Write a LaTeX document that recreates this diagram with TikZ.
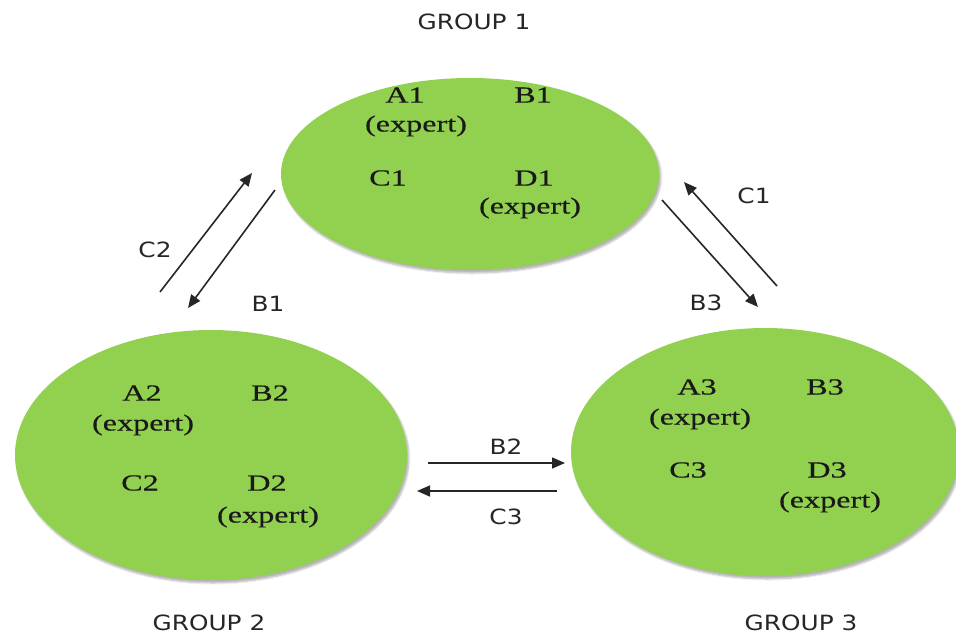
\documentclass[tikz,border=0pt]{standalone}
\usepackage{fontspec}
\usepackage{xcolor}
\usetikzlibrary{arrows.meta,shapes.geometric,shadows.blur}
\setmainfont{Liberation Serif}[FakeStretch=1.4,FakeBold=0.4]
\newfontfamily\grpfont{DejaVu Sans}[FakeStretch=1.18]
\definecolor{GroupGreen}{HTML}{92D050}

\begin{document}
\begin{tikzpicture}[x=1pt,y=-1pt,
        grp/.style={ellipse, fill=GroupGreen, inner sep=0pt,
            blur shadow={shadow xshift=2pt, shadow yshift=-3pt, shadow blur steps=6, shadow opacity=30}},
        member/.style={font=\fontsize{23}{25}\selectfont, text=black!90, inner sep=0pt},
        tag/.style={font=\grpfont\fontsize{21}{23}\selectfont, text=black!85, inner sep=0pt},
        pass/.style={line width=1.6pt, draw=black!85, -{Triangle[length=13pt,width=11pt]}}]
                    \useasboundingbox (0,0) rectangle (956,635);
%                    the three groups
                    \node[grp, minimum width=378, minimum height=192] (g1) at (470,174) {};
                    \node[grp, minimum width=392, minimum height=250] (g2) at (211,455) {};
                    \node[grp, minimum width=388, minimum height=248] (g3) at (765,452) {};

                    \node[tag] (t1) at (474,22) {GROUP 1};
                    \node[tag] (t2) at (209,623) {GROUP 2};
                    \node[tag] (t3) at (801,623) {GROUP 3};

%                    members
                    \node[member] (a1) at (405,95) {A1};
                    \node[member] (a1x) at (416,126) {(expert)};
                    \node[member] (b1) at (533,95) {B1};
                    \node[member] (c1) at (388,178) {C1};
                    \node[member] (d1) at (534,178) {D1};
                    \node[member] (d1x) at (530,208) {(expert)};

                    \node[member] (a2) at (142,393) {A2};
                    \node[member] (a2x) at (143,425) {(expert)};
                    \node[member] (b2) at (270,393) {B2};
                    \node[member] (c2) at (140,483) {C2};
                    \node[member] (d2) at (267,483) {D2};
                    \node[member] (d2x) at (268,517) {(expert)};

                    \node[member] (a3) at (697,387) {A3};
                    \node[member] (a3x) at (700,419) {(expert)};
                    \node[member] (b3) at (825,387) {B3};
                    \node[member] (c3) at (688,470) {C3};
                    \node[member] (d3) at (827,470) {D3};
                    \node[member] (d3x) at (830,502) {(expert)};

%                    exchanges
                    \coordinate (c2from) at (160,292);
                    \coordinate (c2to) at (252,173);
                    \coordinate (b1from) at (275,190);
                    \coordinate (b1to) at (188,308);
                    \coordinate (b3from) at (662,200);
                    \coordinate (b3to) at (758,307);
                    \coordinate (c1from) at (777,286);
                    \coordinate (c1to) at (684,182);
                    \coordinate (b2from) at (428,463);
                    \coordinate (b2to) at (565,463);
                    \coordinate (c3from) at (557,491);
                    \coordinate (c3to) at (417,491);

                    \draw[pass] (c2from) -- (c2to);
                    \draw[pass] (b1from) -- (b1to);
                    \draw[pass] (b3from) -- (b3to);
                    \draw[pass] (c1from) -- (c1to);
                    \draw[pass] (b2from) -- (b2to);
                    \draw[pass] (c3from) -- (c3to);

                    \node[tag] (lc2) at (155,250) {C2};
                    \node[tag] (lb1) at (268,304) {B1};
                    \node[tag] (lc1) at (754,196) {C1};
                    \node[tag] (lb3) at (706,303) {B3};
                    \node[tag] (lb2) at (506,447) {B2};
                    \node[tag] (lc3) at (506,517) {C3};
\end{tikzpicture}
\end{document}
